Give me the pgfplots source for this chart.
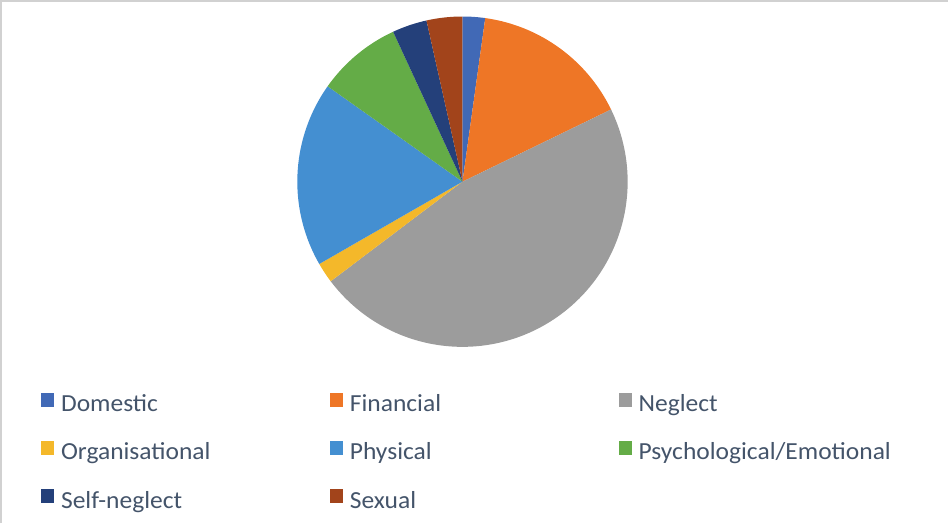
\documentclass[border=0pt]{standalone}
\usepackage{pgfplots}
\pgfplotsset{compat=1.18}
\usepackage{fontspec}
\setmainfont{Carlito}[FakeStretch=1.04]
\definecolor{cDom}{HTML}{4169B6}
\definecolor{cFin}{HTML}{EE7626}
\definecolor{cNeg}{HTML}{9C9C9C}
\definecolor{cOrg}{HTML}{F4B82A}
\definecolor{cPhy}{HTML}{448FD1}
\definecolor{cPsy}{HTML}{64AC47}
\definecolor{cSel}{HTML}{24407A}
\definecolor{cSex}{HTML}{A2441B}
\definecolor{txt}{HTML}{44546A}
\def\cum{0}
\newcommand\slice[3]{%
  \pgfmathsetmacro\sa{90-3.6*(\cum+#1)}%
  \pgfmathsetmacro\sb{90-3.6*\cum}%
  \pgfmathsetmacro\newcum{\cum+#1}\global\let\cum\newcum
  \edef\tmp{\noexpand\addplot[draw=none, fill=#2, domain=\sa:\sb, samples=120]
    ({464+165*cos(x)},{341+165*sin(x)}) -- (464,341) -- cycle;}\tmp
  \addlegendentry{#3}}
\begin{document}
\begin{tikzpicture}
\begin{axis}[
  width=949pt, height=524pt, scale only axis,
  xmin=0, xmax=949, ymin=0, ymax=524,
  axis lines=none, ticks=none, clip=false,
  legend columns=3,
  legend image code/.code={\fill[#1] (0pt,0pt) rectangle (13pt,14pt);},
  legend style={
    at={(axis cs:43,130)}, anchor=north west,
    draw=none, fill=none, inner sep=0pt, outer sep=0pt,
    row sep=23pt,
    font=\fontsize{24.5}{28}\selectfont, text=txt,
    nodes={inner sep=0pt, text height=16pt, text depth=6pt, text width=268.5pt, align=left},
    /tikz/every odd column/.append style={column sep=7pt},
    /tikz/every even column/.append style={column sep=0pt},
  },
]
\draw[black!18, line width=2pt] (axis cs:3,0) -- (axis cs:3,521.5) -- (axis cs:949,521.5);
\slice{2.2}{cDom}{Domestic}
\slice{15.6}{cFin}{Financial}
\slice{46.9}{cNeg}{Neglect}
\slice{2.0}{cOrg}{Organisational}
\slice{18.1}{cPhy}{Physical}
\slice{8.3}{cPsy}{Psychological/Emotional}
\slice{3.4}{cSel}{Self-neglect}
\slice{3.5}{cSex}{Sexual}
\end{axis}
\end{tikzpicture}
\end{document}
